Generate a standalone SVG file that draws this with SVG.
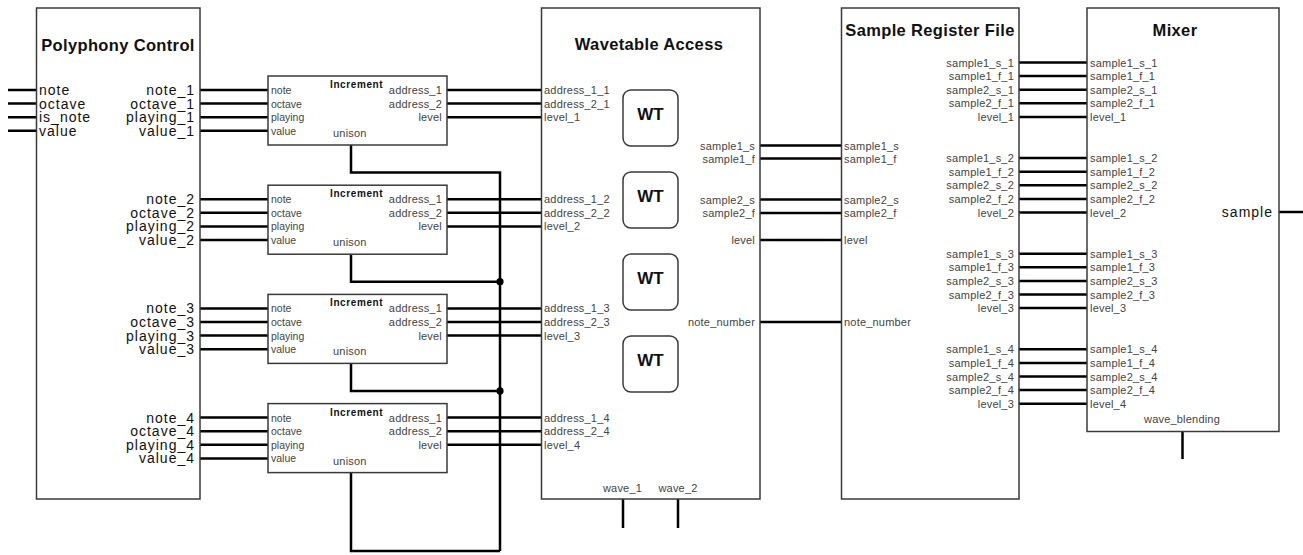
<svg xmlns="http://www.w3.org/2000/svg" width="1303" height="555" viewBox="0 0 1303 555">
  <style>
    .box { fill: #ffffff; stroke: #3a3a3a; stroke-width: 1.5; }
    .wt { fill: #ffffff; stroke: #3a3a3a; stroke-width: 1.5; }
    .wire { fill: none; stroke: #000000; stroke-width: 2.5; }
    .title { font-family: "Liberation Sans", Arial, sans-serif; font-weight: bold; font-size: 16.5px; letter-spacing: 0.35px; fill: #111111; text-anchor: middle; }
    .big { font-family: "Liberation Sans", Arial, sans-serif; font-size: 14px; letter-spacing: 1px; fill: #111111; }
    .sm { font-family: "Liberation Sans", Arial, sans-serif; font-size: 11px; letter-spacing: 0.2px; fill: #444444; }
    .inc { font-family: "Liberation Sans", Arial, sans-serif; font-size: 10.5px; fill: #444444; }
    .incT { font-family: "Liberation Sans", Arial, sans-serif; font-weight: bold; font-size: 10px; letter-spacing: 0.6px; fill: #111111; }
    .wtT { font-family: "Liberation Sans", Arial, sans-serif; font-weight: bold; font-size: 17px; fill: #111111; text-anchor: middle; }
    .r { text-anchor: end; }
    .c { text-anchor: middle; }
  </style>

  <!-- Connectors -->
  <g id="connectors">
    <!-- top-level inputs -->
    <path class="wire" d="M8 90H36.5M8 103.6H36.5M8 117.2H36.5M8 130.8H36.5"/>
    <!-- voice outputs to increment blocks -->
    <path class="wire" d="M200 90H268M200 103.6H268M200 117.2H268M200 130.8H268"/>
    <path class="wire" d="M200 199.2H268M200 212.8H268M200 226.4H268M200 240H268"/>
    <path class="wire" d="M200 308.4H268M200 322H268M200 335.6H268M200 349.2H268"/>
    <path class="wire" d="M200 417.6H268M200 431.2H268M200 444.8H268M200 458.4H268"/>
    <!-- increment outputs to wavetable access -->
    <path class="wire" d="M447 90H541.5M447 103.6H541.5M447 117.2H541.5"/>
    <path class="wire" d="M447 199.2H541.5M447 212.8H541.5M447 226.4H541.5"/>
    <path class="wire" d="M447 308.4H541.5M447 322H541.5M447 335.6H541.5"/>
    <path class="wire" d="M447 417.6H541.5M447 431.2H541.5M447 444.8H541.5"/>
    <!-- unison net -->
    <path class="wire" d="M351 145V172.5H500V551"/>
    <path class="wire" d="M351 254.2V281.7H500"/>
    <path class="wire" d="M351 363.4V390.9H500"/>
    <path class="wire" d="M351 472.6V551H500"/>
    <circle cx="500" cy="281.7" r="3.6" fill="#000"/>
    <circle cx="500" cy="390.9" r="3.6" fill="#000"/>
    <!-- wavetable access to sample register file -->
    <path class="wire" d="M760 145.5H841.5M760 158.5H841.5M760 199.5H841.5M760 213H841.5M760 240H841.5M760 322H841.5"/>
    <!-- wave selects -->
    <path class="wire" d="M623 499V528M678 499V528"/>
    <!-- sample register file to mixer -->
    <path class="wire" d="M1019 62.5H1087M1019 76.1H1087M1019 89.7H1087M1019 103.3H1087M1019 116.9H1087"/>
    <path class="wire" d="M1019 158.1H1087M1019 171.7H1087M1019 185.3H1087M1019 198.9H1087M1019 212.5H1087"/>
    <path class="wire" d="M1019 253.7H1087M1019 267.3H1087M1019 280.9H1087M1019 294.5H1087M1019 308.1H1087"/>
    <path class="wire" d="M1019 349.3H1087M1019 362.9H1087M1019 376.5H1087M1019 390.1H1087M1019 403.7H1087"/>
    <!-- mixer output and blending control -->
    <path class="wire" d="M1279 212H1303"/>
    <path class="wire" d="M1182.5 431.5V459"/>
  </g>

  <!-- Polyphony Control -->
  <g id="polyphony-control">
    <rect class="box" x="36.5" y="8" width="163.5" height="491"/>
    <text class="title" x="118" y="51">Polyphony Control</text>
    <text class="big" x="39" y="95">note</text>
    <text class="big" x="39" y="108.6">octave</text>
    <text class="big" x="39" y="122.2">is_note</text>
    <text class="big" x="39" y="135.8">value</text>
    <g class="big r">
      <text x="195" y="95">note_1</text>
      <text x="195" y="108.6">octave_1</text>
      <text x="195" y="122.2">playing_1</text>
      <text x="195" y="135.8">value_1</text>
      <text x="195" y="204.2">note_2</text>
      <text x="195" y="217.8">octave_2</text>
      <text x="195" y="231.4">playing_2</text>
      <text x="195" y="245">value_2</text>
      <text x="195" y="313.4">note_3</text>
      <text x="195" y="327">octave_3</text>
      <text x="195" y="340.6">playing_3</text>
      <text x="195" y="354.2">value_3</text>
      <text x="195" y="422.6">note_4</text>
      <text x="195" y="436.2">octave_4</text>
      <text x="195" y="449.8">playing_4</text>
      <text x="195" y="463.4">value_4</text>
    </g>
  </g>

  <!-- Increment blocks, one per voice -->
  <g id="increment-1" transform="translate(0,0)">
    <rect class="box" x="268" y="76" width="179" height="69"/>
    <text class="incT" x="330" y="88">Increment</text>
    <text class="inc" x="271" y="94">note</text>
    <text class="inc" x="271" y="107.6">octave</text>
    <text class="inc" x="271" y="121.2">playing</text>
    <text class="inc" x="271" y="134.8">value</text>
    <text class="sm r" x="442" y="94">address_1</text>
    <text class="sm r" x="442" y="107.6">address_2</text>
    <text class="sm r" x="442" y="121.2">level</text>
    <text class="sm" x="333" y="137">unison</text>
  </g>
  <g id="increment-2" transform="translate(0,109.2)">
    <rect class="box" x="268" y="76" width="179" height="69"/>
    <text class="incT" x="330" y="88">Increment</text>
    <text class="inc" x="271" y="94">note</text>
    <text class="inc" x="271" y="107.6">octave</text>
    <text class="inc" x="271" y="121.2">playing</text>
    <text class="inc" x="271" y="134.8">value</text>
    <text class="sm r" x="442" y="94">address_1</text>
    <text class="sm r" x="442" y="107.6">address_2</text>
    <text class="sm r" x="442" y="121.2">level</text>
    <text class="sm" x="333" y="137">unison</text>
  </g>
  <g id="increment-3" transform="translate(0,218.4)">
    <rect class="box" x="268" y="76" width="179" height="69"/>
    <text class="incT" x="330" y="88">Increment</text>
    <text class="inc" x="271" y="94">note</text>
    <text class="inc" x="271" y="107.6">octave</text>
    <text class="inc" x="271" y="121.2">playing</text>
    <text class="inc" x="271" y="134.8">value</text>
    <text class="sm r" x="442" y="94">address_1</text>
    <text class="sm r" x="442" y="107.6">address_2</text>
    <text class="sm r" x="442" y="121.2">level</text>
    <text class="sm" x="333" y="137">unison</text>
  </g>
  <g id="increment-4" transform="translate(0,327.6)">
    <rect class="box" x="268" y="76" width="179" height="69"/>
    <text class="incT" x="330" y="88">Increment</text>
    <text class="inc" x="271" y="94">note</text>
    <text class="inc" x="271" y="107.6">octave</text>
    <text class="inc" x="271" y="121.2">playing</text>
    <text class="inc" x="271" y="134.8">value</text>
    <text class="sm r" x="442" y="94">address_1</text>
    <text class="sm r" x="442" y="107.6">address_2</text>
    <text class="sm r" x="442" y="121.2">level</text>
    <text class="sm" x="333" y="137">unison</text>
  </g>

  <!-- Wavetable Access -->
  <g id="wavetable-access">
    <rect class="box" x="541.5" y="8" width="218.5" height="491"/>
    <text class="title" x="649" y="50">Wavetable Access</text>
    <g class="sm">
      <text x="544" y="94">address_1_1</text>
      <text x="544" y="107.6">address_2_1</text>
      <text x="544" y="121.2">level_1</text>
      <text x="544" y="203.2">address_1_2</text>
      <text x="544" y="216.8">address_2_2</text>
      <text x="544" y="230.4">level_2</text>
      <text x="544" y="312.4">address_1_3</text>
      <text x="544" y="326">address_2_3</text>
      <text x="544" y="339.6">level_3</text>
      <text x="544" y="421.6">address_1_4</text>
      <text x="544" y="435.2">address_2_4</text>
      <text x="544" y="448.8">level_4</text>
    </g>
    <g class="sm r">
      <text x="755" y="149.5">sample1_s</text>
      <text x="755" y="162.5">sample1_f</text>
      <text x="755" y="203.5">sample2_s</text>
      <text x="755" y="217">sample2_f</text>
      <text x="755" y="244">level</text>
      <text x="755" y="326">note_number</text>
    </g>
    <text class="sm c" x="622.5" y="492">wave_1</text>
    <text class="sm c" x="678" y="492">wave_2</text>
  </g>
  <g id="wt-1">
    <rect class="wt" x="623" y="90" width="55" height="56" rx="8"/>
    <text class="wtT" x="650.5" y="120">WT</text>
  </g>
  <g id="wt-2">
    <rect class="wt" x="623" y="172" width="55" height="56" rx="8"/>
    <text class="wtT" x="650.5" y="202">WT</text>
  </g>
  <g id="wt-3">
    <rect class="wt" x="623" y="254" width="55" height="56" rx="8"/>
    <text class="wtT" x="650.5" y="284">WT</text>
  </g>
  <g id="wt-4">
    <rect class="wt" x="623" y="336" width="55" height="56" rx="8"/>
    <text class="wtT" x="650.5" y="366">WT</text>
  </g>

  <!-- Sample Register File -->
  <g id="sample-register-file">
    <rect class="box" x="841.5" y="8" width="177.5" height="491"/>
    <text class="title" x="930" y="36">Sample Register File</text>
    <g class="sm">
      <text x="844" y="149.5">sample1_s</text>
      <text x="844" y="162.5">sample1_f</text>
      <text x="844" y="203.5">sample2_s</text>
      <text x="844" y="217">sample2_f</text>
      <text x="844" y="244">level</text>
      <text x="844" y="326">note_number</text>
    </g>
    <g class="sm r">
      <text x="1014" y="66.5">sample1_s_1</text>
      <text x="1014" y="80.1">sample1_f_1</text>
      <text x="1014" y="93.7">sample2_s_1</text>
      <text x="1014" y="107.3">sample2_f_1</text>
      <text x="1014" y="120.9">level_1</text>
      <text x="1014" y="162.1">sample1_s_2</text>
      <text x="1014" y="175.7">sample1_f_2</text>
      <text x="1014" y="189.3">sample2_s_2</text>
      <text x="1014" y="202.9">sample2_f_2</text>
      <text x="1014" y="216.5">level_2</text>
      <text x="1014" y="257.7">sample1_s_3</text>
      <text x="1014" y="271.3">sample1_f_3</text>
      <text x="1014" y="284.9">sample2_s_3</text>
      <text x="1014" y="298.5">sample2_f_3</text>
      <text x="1014" y="312.1">level_3</text>
      <text x="1014" y="353.3">sample1_s_4</text>
      <text x="1014" y="366.9">sample1_f_4</text>
      <text x="1014" y="380.5">sample2_s_4</text>
      <text x="1014" y="394.1">sample2_f_4</text>
      <text x="1014" y="407.7">level_3</text>
    </g>
  </g>

  <!-- Mixer -->
  <g id="mixer">
    <rect class="box" x="1087" y="8" width="192" height="423.5"/>
    <text class="title" x="1175" y="36">Mixer</text>
    <g class="sm">
      <text x="1090" y="66.5">sample1_s_1</text>
      <text x="1090" y="80.1">sample1_f_1</text>
      <text x="1090" y="93.7">sample2_s_1</text>
      <text x="1090" y="107.3">sample2_f_1</text>
      <text x="1090" y="120.9">level_1</text>
      <text x="1090" y="162.1">sample1_s_2</text>
      <text x="1090" y="175.7">sample1_f_2</text>
      <text x="1090" y="189.3">sample2_s_2</text>
      <text x="1090" y="202.9">sample2_f_2</text>
      <text x="1090" y="216.5">level_2</text>
      <text x="1090" y="257.7">sample1_s_3</text>
      <text x="1090" y="271.3">sample1_f_3</text>
      <text x="1090" y="284.9">sample2_s_3</text>
      <text x="1090" y="298.5">sample2_f_3</text>
      <text x="1090" y="312.1">level_3</text>
      <text x="1090" y="353.3">sample1_s_4</text>
      <text x="1090" y="366.9">sample1_f_4</text>
      <text x="1090" y="380.5">sample2_s_4</text>
      <text x="1090" y="394.1">sample2_f_4</text>
      <text x="1090" y="407.7">level_4</text>
    </g>
    <text class="big r" x="1273" y="217">sample</text>
    <text class="sm c" x="1182" y="423">wave_blending</text>
  </g>
</svg>
